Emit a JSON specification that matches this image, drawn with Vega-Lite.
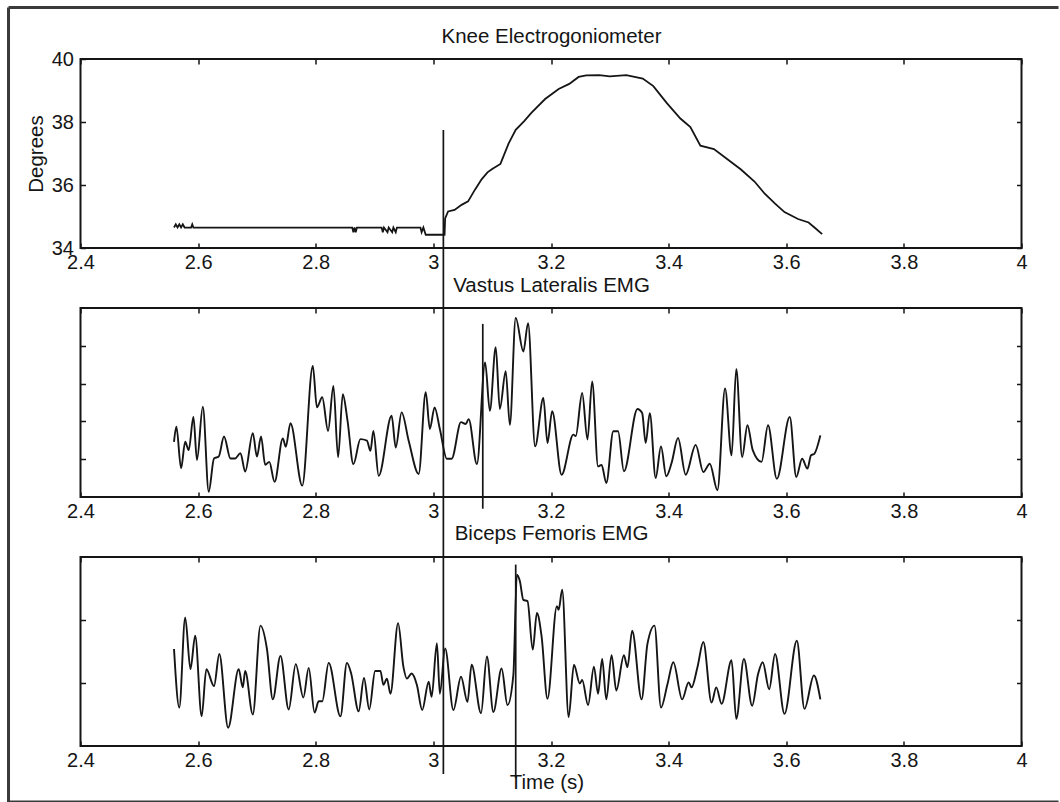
{
  "$schema": "https://vega.github.io/schema/vega-lite/v6.json",
  "background": "white",
  "padding": {"left": 5.5, "top": 4, "right": 0, "bottom": 0},
  "bounds": "flush",
  "spacing": 60,
  "datasets": {
    "knee": [
      {"t": 2.559, "deg": 34.65}, {"t": 2.562, "deg": 34.75}, {"t": 2.565, "deg": 34.65}, {"t": 2.568, "deg": 34.75},
      {"t": 2.571, "deg": 34.65}, {"t": 2.574, "deg": 34.75}, {"t": 2.577, "deg": 34.65}, {"t": 2.588, "deg": 34.65},
      {"t": 2.590, "deg": 34.75}, {"t": 2.592, "deg": 34.65}, {"t": 2.862, "deg": 34.65}, {"t": 2.864, "deg": 34.5},
      {"t": 2.866, "deg": 34.65}, {"t": 2.868, "deg": 34.5}, {"t": 2.870, "deg": 34.65}, {"t": 2.912, "deg": 34.65},
      {"t": 2.914, "deg": 34.5}, {"t": 2.916, "deg": 34.65}, {"t": 2.922, "deg": 34.5}, {"t": 2.924, "deg": 34.65},
      {"t": 2.930, "deg": 34.5}, {"t": 2.932, "deg": 34.65}, {"t": 2.936, "deg": 34.5}, {"t": 2.938, "deg": 34.65},
      {"t": 2.978, "deg": 34.65}, {"t": 2.980, "deg": 34.5}, {"t": 2.983, "deg": 34.65}, {"t": 2.987, "deg": 34.42},
      {"t": 3.019, "deg": 34.42}, {"t": 3.020, "deg": 34.94}, {"t": 3.025, "deg": 35.16}, {"t": 3.036, "deg": 35.21},
      {"t": 3.048, "deg": 35.37}, {"t": 3.059, "deg": 35.48}, {"t": 3.071, "deg": 35.86}, {"t": 3.082, "deg": 36.18},
      {"t": 3.092, "deg": 36.40}, {"t": 3.100, "deg": 36.51}, {"t": 3.114, "deg": 36.67}, {"t": 3.128, "deg": 37.32},
      {"t": 3.140, "deg": 37.75}, {"t": 3.154, "deg": 38.02}, {"t": 3.167, "deg": 38.30}, {"t": 3.190, "deg": 38.73},
      {"t": 3.213, "deg": 39.05}, {"t": 3.231, "deg": 39.21}, {"t": 3.247, "deg": 39.43}, {"t": 3.260, "deg": 39.48},
      {"t": 3.282, "deg": 39.49}, {"t": 3.300, "deg": 39.45}, {"t": 3.328, "deg": 39.49}, {"t": 3.356, "deg": 39.38},
      {"t": 3.374, "deg": 39.14}, {"t": 3.397, "deg": 38.60}, {"t": 3.420, "deg": 38.11}, {"t": 3.437, "deg": 37.84},
      {"t": 3.454, "deg": 37.25}, {"t": 3.477, "deg": 37.14}, {"t": 3.500, "deg": 36.82}, {"t": 3.523, "deg": 36.49},
      {"t": 3.546, "deg": 36.11}, {"t": 3.563, "deg": 35.73}, {"t": 3.581, "deg": 35.41}, {"t": 3.597, "deg": 35.14},
      {"t": 3.620, "deg": 34.92}, {"t": 3.638, "deg": 34.81}, {"t": 3.650, "deg": 34.62}, {"t": 3.661, "deg": 34.44}
    ],
    "vl": [
      {"t": 2.559, "v": 1.46}, {"t": 2.563, "v": 1.86}, {"t": 2.571, "v": 0.76}, {"t": 2.578, "v": 1.46},
      {"t": 2.584, "v": 1.24}, {"t": 2.592, "v": 2.12}, {"t": 2.598, "v": 0.98}, {"t": 2.608, "v": 2.39},
      {"t": 2.618, "v": 0.14}, {"t": 2.627, "v": 1.02}, {"t": 2.635, "v": 1.07}, {"t": 2.644, "v": 1.60},
      {"t": 2.655, "v": 1.02}, {"t": 2.663, "v": 1.02}, {"t": 2.672, "v": 1.16}, {"t": 2.680, "v": 0.67},
      {"t": 2.693, "v": 1.69}, {"t": 2.700, "v": 1.07}, {"t": 2.707, "v": 1.60}, {"t": 2.714, "v": 0.85},
      {"t": 2.721, "v": 0.93}, {"t": 2.730, "v": 0.40}, {"t": 2.744, "v": 1.55}, {"t": 2.749, "v": 1.33},
      {"t": 2.757, "v": 1.95}, {"t": 2.777, "v": 0.30}, {"t": 2.795, "v": 3.47}, {"t": 2.802, "v": 2.37},
      {"t": 2.811, "v": 2.64}, {"t": 2.821, "v": 1.75}, {"t": 2.830, "v": 2.94}, {"t": 2.838, "v": 1.05},
      {"t": 2.846, "v": 2.72}, {"t": 2.854, "v": 2.02}, {"t": 2.864, "v": 0.87}, {"t": 2.876, "v": 1.53},
      {"t": 2.887, "v": 1.49}, {"t": 2.893, "v": 1.22}, {"t": 2.898, "v": 1.75}, {"t": 2.907, "v": 0.56},
      {"t": 2.929, "v": 2.15}, {"t": 2.936, "v": 1.31}, {"t": 2.946, "v": 2.24}, {"t": 2.958, "v": 1.49},
      {"t": 2.975, "v": 0.61}, {"t": 2.987, "v": 2.77}, {"t": 2.994, "v": 1.80}, {"t": 3.002, "v": 2.37},
      {"t": 3.011, "v": 1.80}, {"t": 3.023, "v": 1.01}, {"t": 3.031, "v": 1.01}, {"t": 3.047, "v": 1.98},
      {"t": 3.055, "v": 1.93}, {"t": 3.060, "v": 2.06}, {"t": 3.074, "v": 0.87}, {"t": 3.088, "v": 3.56},
      {"t": 3.096, "v": 2.28}, {"t": 3.106, "v": 3.96}, {"t": 3.113, "v": 2.33}, {"t": 3.123, "v": 3.33},
      {"t": 3.130, "v": 1.91}, {"t": 3.140, "v": 4.74}, {"t": 3.153, "v": 3.85}, {"t": 3.161, "v": 4.60},
      {"t": 3.173, "v": 1.34}, {"t": 3.187, "v": 2.62}, {"t": 3.194, "v": 1.43}, {"t": 3.202, "v": 2.27},
      {"t": 3.218, "v": 0.59}, {"t": 3.238, "v": 1.65}, {"t": 3.242, "v": 1.61}, {"t": 3.253, "v": 2.75},
      {"t": 3.262, "v": 1.52}, {"t": 3.270, "v": 3.06}, {"t": 3.280, "v": 0.81}, {"t": 3.286, "v": 0.85},
      {"t": 3.294, "v": 0.37}, {"t": 3.306, "v": 1.74}, {"t": 3.314, "v": 1.74}, {"t": 3.324, "v": 0.68},
      {"t": 3.347, "v": 2.33}, {"t": 3.355, "v": 2.22}, {"t": 3.361, "v": 1.43}, {"t": 3.368, "v": 2.22},
      {"t": 3.378, "v": 0.50}, {"t": 3.387, "v": 1.34}, {"t": 3.396, "v": 0.55}, {"t": 3.405, "v": 0.90},
      {"t": 3.416, "v": 1.56}, {"t": 3.429, "v": 0.59}, {"t": 3.446, "v": 1.38}, {"t": 3.459, "v": 0.66},
      {"t": 3.470, "v": 0.88}, {"t": 3.483, "v": 0.18}, {"t": 3.496, "v": 2.87}, {"t": 3.507, "v": 1.10},
      {"t": 3.515, "v": 3.39}, {"t": 3.525, "v": 1.06}, {"t": 3.534, "v": 1.90}, {"t": 3.543, "v": 1.24},
      {"t": 3.558, "v": 0.93}, {"t": 3.569, "v": 1.90}, {"t": 3.584, "v": 0.48}, {"t": 3.606, "v": 2.12},
      {"t": 3.617, "v": 0.53}, {"t": 3.627, "v": 1.01}, {"t": 3.636, "v": 0.75}, {"t": 3.642, "v": 1.10},
      {"t": 3.648, "v": 1.15}, {"t": 3.658, "v": 1.63}
    ],
    "bf": [
      {"t": 2.559, "v": 1.54}, {"t": 2.568, "v": 0.61}, {"t": 2.578, "v": 2.04}, {"t": 2.587, "v": 1.22},
      {"t": 2.595, "v": 1.75}, {"t": 2.606, "v": 0.47}, {"t": 2.614, "v": 1.22}, {"t": 2.627, "v": 0.95},
      {"t": 2.636, "v": 1.46}, {"t": 2.651, "v": 0.29}, {"t": 2.669, "v": 1.22}, {"t": 2.676, "v": 0.93},
      {"t": 2.680, "v": 1.19}, {"t": 2.693, "v": 0.50}, {"t": 2.706, "v": 1.91}, {"t": 2.717, "v": 1.54},
      {"t": 2.727, "v": 0.74}, {"t": 2.740, "v": 1.43}, {"t": 2.754, "v": 0.58}, {"t": 2.766, "v": 1.30},
      {"t": 2.779, "v": 0.77}, {"t": 2.788, "v": 1.24}, {"t": 2.798, "v": 0.53}, {"t": 2.805, "v": 0.71},
      {"t": 2.811, "v": 0.71}, {"t": 2.822, "v": 1.32}, {"t": 2.842, "v": 0.47}, {"t": 2.853, "v": 1.32},
      {"t": 2.860, "v": 1.16}, {"t": 2.873, "v": 0.55}, {"t": 2.882, "v": 1.08}, {"t": 2.891, "v": 0.58},
      {"t": 2.901, "v": 1.19}, {"t": 2.910, "v": 1.19}, {"t": 2.915, "v": 0.97}, {"t": 2.921, "v": 1.07},
      {"t": 2.927, "v": 0.83}, {"t": 2.940, "v": 1.95}, {"t": 2.949, "v": 1.26}, {"t": 2.955, "v": 1.07},
      {"t": 2.963, "v": 1.15}, {"t": 2.972, "v": 0.97}, {"t": 2.981, "v": 0.57}, {"t": 2.992, "v": 1.02},
      {"t": 2.997, "v": 0.78}, {"t": 3.006, "v": 1.63}, {"t": 3.011, "v": 0.83}, {"t": 3.020, "v": 1.55},
      {"t": 3.034, "v": 0.57}, {"t": 3.047, "v": 1.10}, {"t": 3.058, "v": 0.70}, {"t": 3.065, "v": 1.29},
      {"t": 3.081, "v": 0.52}, {"t": 3.091, "v": 1.42}, {"t": 3.102, "v": 0.54}, {"t": 3.116, "v": 1.23},
      {"t": 3.126, "v": 0.65}, {"t": 3.136, "v": 1.13}, {"t": 3.142, "v": 2.72}, {"t": 3.147, "v": 2.62},
      {"t": 3.153, "v": 2.32}, {"t": 3.160, "v": 2.30}, {"t": 3.169, "v": 1.53}, {"t": 3.176, "v": 2.11},
      {"t": 3.184, "v": 1.74}, {"t": 3.194, "v": 0.75}, {"t": 3.210, "v": 2.22}, {"t": 3.213, "v": 2.16},
      {"t": 3.219, "v": 2.48}, {"t": 3.230, "v": 0.46}, {"t": 3.239, "v": 1.29}, {"t": 3.249, "v": 0.99},
      {"t": 3.253, "v": 1.05}, {"t": 3.263, "v": 0.65}, {"t": 3.273, "v": 1.26}, {"t": 3.280, "v": 0.83},
      {"t": 3.287, "v": 1.38}, {"t": 3.294, "v": 0.74}, {"t": 3.303, "v": 1.44}, {"t": 3.311, "v": 0.88},
      {"t": 3.324, "v": 1.44}, {"t": 3.330, "v": 1.25}, {"t": 3.338, "v": 1.83}, {"t": 3.354, "v": 0.74},
      {"t": 3.364, "v": 1.62}, {"t": 3.376, "v": 1.91}, {"t": 3.387, "v": 0.61}, {"t": 3.398, "v": 0.98},
      {"t": 3.408, "v": 1.33}, {"t": 3.423, "v": 0.74}, {"t": 3.434, "v": 1.01}, {"t": 3.439, "v": 0.93},
      {"t": 3.449, "v": 1.25}, {"t": 3.459, "v": 1.65}, {"t": 3.473, "v": 0.69}, {"t": 3.481, "v": 0.93},
      {"t": 3.490, "v": 0.67}, {"t": 3.507, "v": 1.36}, {"t": 3.515, "v": 0.43}, {"t": 3.528, "v": 1.38},
      {"t": 3.542, "v": 0.64}, {"t": 3.552, "v": 1.14}, {"t": 3.560, "v": 1.33}, {"t": 3.571, "v": 0.90},
      {"t": 3.581, "v": 1.46}, {"t": 3.597, "v": 0.51}, {"t": 3.618, "v": 1.67}, {"t": 3.631, "v": 0.59},
      {"t": 3.647, "v": 1.12}, {"t": 3.658, "v": 0.74}
    ],
    "markers": [
      {"panel": 1, "t": 3.017, "top": 37.75, "bottom": 17.302},
      {"panel": 2, "t": 3.084, "top": 4.58, "bottom": -0.31},
      {"panel": 3, "t": 3.140, "top": 2.88, "bottom": -0.51}
    ]
  },
  "vconcat": [
    {
      "width": 941,
      "height": 189,
      "layer": [
        {
          "data": {"name": "knee"},
          "mark": {"type": "line", "color": "#151515", "strokeWidth": 1.8},
          "encoding": {
            "x": {"field": "t", "type": "quantitative",
                  "scale": {"domain": [2.4, 4], "nice": false, "zero": false},
                  "axis": {"orient": "bottom", "values": [2.4, 2.6, 2.8, 3, 3.2, 3.4, 3.6, 3.8, 4], "format": "~g", "title": null}},
            "y": {"field": "deg", "type": "quantitative",
                  "scale": {"domain": [34, 40], "nice": false, "zero": false},
                  "axis": {"orient": "left", "values": [34, 36, 38, 40], "format": "~g", "title": "Degrees"}}
          }
        },
        {
          "data": {"name": "markers"},
          "transform": [{"filter": "datum.panel == 1"}],
          "mark": {"type": "rule", "color": "#151515", "strokeWidth": 1.7, "clip": false},
          "encoding": {
            "x": {"field": "t", "type": "quantitative",
                  "axis": {"orient": "top", "values": [2.4, 2.6, 2.8, 3, 3.2, 3.4, 3.6, 3.8, 4], "labels": false,
                           "title": "Knee Electrogoniometer", "titleBaseline": "alphabetic", "titlePadding": 15.5, "titleFontSize": 20.5}},
            "y": {"field": "top", "type": "quantitative",
                  "axis": {"orient": "right", "values": [34, 36, 38, 40], "labels": false, "title": null}},
            "y2": {"field": "bottom"}
          }
        },
        {
          "data": {"values": [{}]},
          "mark": {"type": "rule", "color": "#3a3a3a", "strokeWidth": 3, "clip": false},
          "encoding": {
            "x": {"datum": 2.2776, "type": "quantitative", "axis": null},
            "y": {"datum": 41.635, "type": "quantitative", "axis": null},
            "y2": {"datum": 16.413}
          }
        },
        {
          "data": {"values": [{}]},
          "mark": {"type": "rule", "color": "#3a3a3a", "strokeWidth": 3, "clip": false},
          "encoding": {
            "x": {"datum": 2.2776, "type": "quantitative", "axis": null},
            "x2": {"datum": 4.0629},
            "y": {"datum": 41.635, "type": "quantitative", "axis": null}
          }
        },
        {
          "data": {"values": [{}]},
          "mark": {"type": "rule", "color": "#3a3a3a", "strokeWidth": 3, "clip": false},
          "encoding": {
            "x": {"datum": 2.2776, "type": "quantitative", "axis": null},
            "x2": {"datum": 4.0629},
            "y": {"datum": 16.413, "type": "quantitative", "axis": null}
          }
        }
      ],
      "resolve": {"axis": {"x": "independent", "y": "independent"}}
    },
    {
      "width": 941,
      "height": 189,
      "layer": [
        {
          "data": {"name": "vl"},
          "mark": {"type": "line", "color": "#151515", "strokeWidth": 1.9, "interpolate": "monotone"},
          "encoding": {
            "x": {"field": "t", "type": "quantitative",
                  "scale": {"domain": [2.4, 4], "nice": false, "zero": false},
                  "axis": {"orient": "bottom", "values": [2.4, 2.6, 2.8, 3, 3.2, 3.4, 3.6, 3.8, 4], "format": "~g", "title": null}},
            "y": {"field": "v", "type": "quantitative",
                  "scale": {"domain": [0, 5], "nice": false, "zero": false},
                  "axis": {"orient": "left", "values": [1, 2, 3, 4], "labels": false, "title": null}}
          }
        },
        {
          "data": {"name": "markers"},
          "transform": [{"filter": "datum.panel == 2"}],
          "mark": {"type": "rule", "color": "#151515", "strokeWidth": 1.7, "clip": false},
          "encoding": {
            "x": {"field": "t", "type": "quantitative",
                  "axis": {"orient": "top", "values": [2.4, 2.6, 2.8, 3, 3.2, 3.4, 3.6, 3.8, 4], "labels": false,
                           "title": "Vastus Lateralis EMG", "titleBaseline": "alphabetic", "titlePadding": 16, "titleFontSize": 20.5}},
            "y": {"field": "top", "type": "quantitative",
                  "axis": {"orient": "right", "values": [1, 2, 3, 4], "labels": false, "title": null}},
            "y2": {"field": "bottom"}
          }
        }
      ],
      "resolve": {"axis": {"x": "independent", "y": "independent"}}
    },
    {
      "width": 941,
      "height": 189,
      "layer": [
        {
          "data": {"name": "bf"},
          "mark": {"type": "line", "color": "#151515", "strokeWidth": 1.9, "interpolate": "monotone"},
          "encoding": {
            "x": {"field": "t", "type": "quantitative",
                  "scale": {"domain": [2.4, 4], "nice": false, "zero": false},
                  "axis": {"orient": "bottom", "values": [2.4, 2.6, 2.8, 3, 3.2, 3.4, 3.6, 3.8, 4], "format": "~g", "title": "Time (s)", "titleX": 466, "titlePadding": 2}},
            "y": {"field": "v", "type": "quantitative",
                  "scale": {"domain": [0, 3], "nice": false, "zero": false},
                  "axis": {"orient": "left", "values": [1, 2], "labels": false, "title": null}}
          }
        },
        {
          "data": {"name": "markers"},
          "transform": [{"filter": "datum.panel == 3"}],
          "mark": {"type": "rule", "color": "#151515", "strokeWidth": 1.7, "clip": false},
          "encoding": {
            "x": {"field": "t", "type": "quantitative",
                  "axis": {"orient": "top", "values": [2.4, 2.6, 2.8, 3, 3.2, 3.4, 3.6, 3.8, 4], "labels": false,
                           "title": "Biceps Femoris EMG", "titleBaseline": "alphabetic", "titlePadding": 16.5, "titleFontSize": 20.5}},
            "y": {"field": "top", "type": "quantitative",
                  "axis": {"orient": "right", "values": [1, 2], "labels": false, "title": null}},
            "y2": {"field": "bottom"}
          }
        }
      ],
      "resolve": {"axis": {"x": "independent", "y": "independent"}}
    }
  ],
  "config": {
    "view": {"stroke": "#151515", "strokeWidth": 2},
    "axis": {
      "domain": false,
      "grid": false,
      "tickSize": -5,
      "tickColor": "#151515",
      "tickWidth": 1.5,
      "labelPadding": 9.5,
      "labelFlush": false,
      "labelOverlap": false,
      "labelBound": false,
      "labelFont": "Liberation Sans",
      "labelFontSize": 20,
      "labelColor": "#151515",
      "titleFont": "Liberation Sans",
      "titleFontSize": 20.5,
      "titleFontWeight": "normal",
      "titleColor": "#151515",
      "titlePadding": 5
    },
    "axisLeft": {"labelPadding": 12}
  }
}
